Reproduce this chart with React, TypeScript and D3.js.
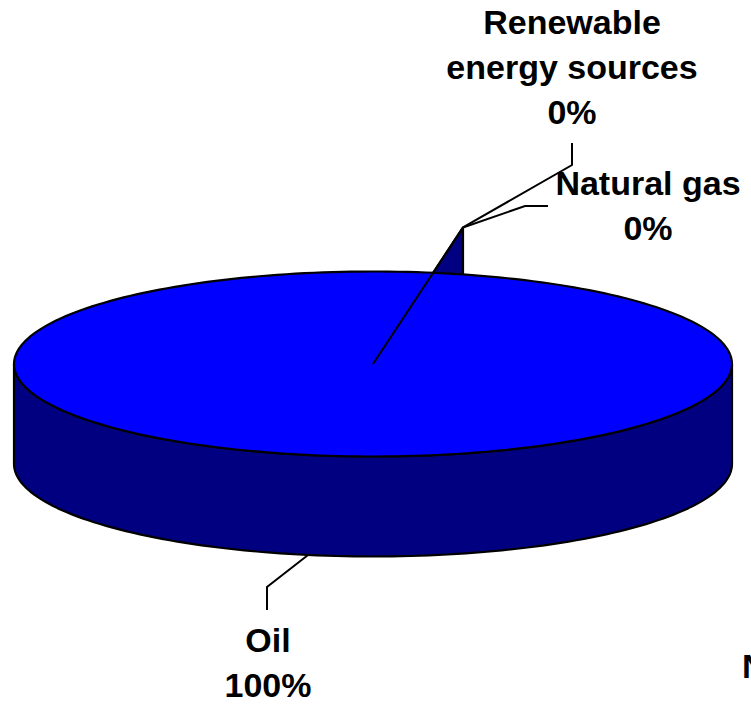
import React, { useEffect } from "react";
import * as d3 from "d3";

// ---- data ----
const categories = ["Oil", "Natural gas", "Renewable energy sources", "Nuclear energy"];
const values = [100, 0, 0, 0];
const labelNameLines = [["Oil"], ["Natural gas"], ["Renewable", "energy sources"], ["Nuclear energy"]];

// ---- layout ----
const W = 751;
const H = 705;
const cx = 373;
const cy = 364;
const rx = 359;
const ry = 92.5;
const depth = 100;
const lift = 47; // height of the degenerate slice wall
const startAngle = Math.asin(90 / 359);
const fontSize = 34;
const lineGap = 45;

const labelLayout = [
  { x: 268, y: 652, anchor: "middle", showPct: true, leader: { fromAngle: Math.PI + 0.182, onBottom: true, pts: [[267, 587], [267, 610]] } },
  { x: 648, y: 195, anchor: "middle", showPct: true, leader: { fromApex: true, pts: [[525, 206], [548, 206]] } },
  { x: 572, y: 34, anchor: "middle", showPct: true, leader: { fromApex: true, pts: [[572, 165], [572, 143]] } },
  { x: 742, y: 678, anchor: "start", showPct: false, leader: null },
];

const proj = (a: number, dy = 0): [number, number] => [cx + rx * Math.sin(a), cy - ry * Math.cos(a) + dy];

export default function App() {
  useEffect(() => {
    document.body.style.margin = "0";
  }, []);

  const total = d3.sum(values);
  const pie = d3
    .pie<number>()
    .sort(null)
    .value((d) => d)
    .startAngle(startAngle)
    .endAngle(startAngle + 2 * Math.PI);
  const arcs = pie(values);
  const pct = d3.format(".0%");
  const line = d3.line<[number, number]>();

  // top face of the biggest slice (full ellipse here)
  const main = arcs[0];
  const topPts = d3
    .range(0, 241)
    .map((i) => proj(main.startAngle + ((main.endAngle - main.startAngle) * i) / 240));
  const topPath = line(topPts) + "Z";

  // visible side (front half)
  const frontA = d3.range(0, 121).map((i) => Math.PI / 2 + (Math.PI * i) / 120);
  const sidePts = [
    ...frontA.map((a) => proj(a)),
    ...frontA.slice().reverse().map((a) => proj(a, depth)),
  ];
  const sidePath = line(sidePts) + "Z";

  // degenerate (0%) slices wall at the slice boundary
  const boundary = arcs[1].startAngle;
  const P = proj(boundary);
  const apex: [number, number] = [P[0], P[1] - lift];
  const wallPath = line([[cx, cy], apex, P]) + "Z";

  return (
    <svg width={W} height={H} style={{ display: "block", position: "absolute", left: 0, top: 0 }}>
      <rect width={W} height={H} fill="#ffffff" />
      <path d={sidePath} fill="#000080" stroke="#000" strokeWidth={2.2} strokeLinejoin="round" />
      <path d={wallPath} fill="#000080" stroke="#000" strokeWidth={2.2} strokeLinejoin="round" />
      <path d={topPath} fill="#0000ff" stroke="#000" strokeWidth={2.2} strokeLinejoin="round" />
      <line x1={cx} y1={cy} x2={apex[0]} y2={apex[1]} stroke="#000" strokeWidth={2} />
      {arcs.map((a, i) => {
        const L = labelLayout[i];
        let leader = null;
        if (L.leader) {
          const start: [number, number] = L.leader.fromApex
            ? apex
            : proj(L.leader.fromAngle as number, L.leader.onBottom ? depth : 0);
          leader = (
            <path
              d={line([start, ...(L.leader.pts as [number, number][])]) as string}
              fill="none"
              stroke="#000"
              strokeWidth={2}
            />
          );
        }
        const lines = L.showPct ? [...labelNameLines[i], pct(values[i] / total)] : [...labelNameLines[i]];
        return (
          <g key={categories[i]}>
            {leader}
            <text
              x={L.x}
              y={L.y}
              textAnchor={L.anchor as any}
              fontFamily="'Liberation Sans', Arial, sans-serif"
              fontWeight="bold"
              fontSize={fontSize}
              fill="#000"
            >
              {lines.map((t, j) => (
                <tspan key={j} x={L.x} y={L.y + j * lineGap}>
                  {t}
                </tspan>
              ))}
            </text>
          </g>
        );
      })}
    </svg>
  );
}
